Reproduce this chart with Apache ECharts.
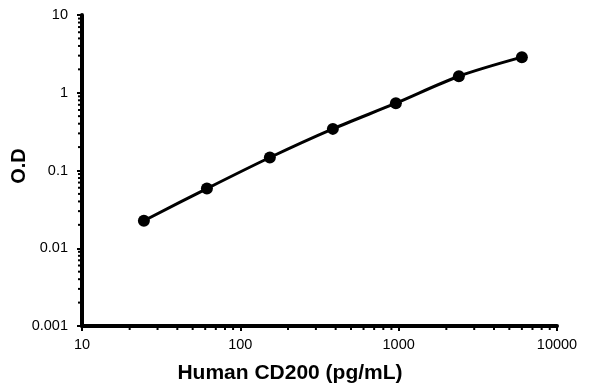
<!DOCTYPE html>
<html>
<head>
<meta charset="utf-8">
<script src="https://cdn.jsdelivr.net/npm/echarts@6/dist/echarts.min.js"></script>
<style>html,body{margin:0;padding:0;background:#fff}#c{width:600px;height:386px}</style>
</head>
<body>
<div id="c"></div>
<script>
var concentrations = [24.6, 61.5, 153.6, 384, 960, 2400, 6000];
var odValues = [0.0226, 0.0586, 0.147, 0.343, 0.733, 1.63, 2.87];
var xTickLabels = ['10', '100', '1000', '10000'];
var yTickLabels = ['0.001', '0.01', '0.1', '1', '10'];
var xMinorTicks = [20,30,40,50,60,70,80,90,200,300,400,500,600,700,800,900,2000,3000,4000,5000,6000,7000,8000,9000];
var yMinorTicks = [0.002,0.003,0.004,0.005,0.006,0.007,0.008,0.009,0.02,0.03,0.04,0.05,0.06,0.07,0.08,0.09,0.2,0.3,0.4,0.5,0.6,0.7,0.8,0.9,2,3,4,5,6,7,8,9];
var X_MIN = 10, X_MAX = 10000, Y_MIN = 0.001, Y_MAX = 10;

var font = 'Arial, "Liberation Sans", sans-serif';
var chart = echarts.init(document.getElementById('c'), null, {renderer: 'canvas'});

function minorTickSeries(isX) {
  var vals = isX ? xMinorTicks : yMinorTicks;
  return {
    type: 'custom',
    silent: true,
    clip: false,
    z: 1,
    data: vals.map(function (v) { return isX ? [v, Y_MIN] : [X_MIN, v]; }),
    renderItem: function (params, api) {
      var p = api.coord([api.value(0), api.value(1)]);
      var shape = isX ? {x1: p[0], y1: p[1], x2: p[0], y2: p[1] + 4}
                      : {x1: p[0], y1: p[1], x2: p[0] - 4, y2: p[1]};
      return {type: 'line', shape: shape, style: {stroke: '#000', lineWidth: 2}};
    }
  };
}

chart.setOption({
  animation: false,
  backgroundColor: '#fff',
  grid: {left: 82, right: 43, top: 15, bottom: 60, containLabel: false, outerBoundsMode: 'none'},
  xAxis: {
    type: 'log', logBase: 10, min: X_MIN, max: X_MAX,
    name: 'Human CD200 (pg/mL)', nameLocation: 'middle', nameGap: 37, nameMoveOverlap: false,
    nameTextStyle: {fontFamily: font, fontWeight: 'bold', fontSize: 21, color: '#000', padding: [0, 59, 0, 0]},
    axisLine: {show: true, lineStyle: {color: '#000', width: 4}},
    axisTick: {show: true, inside: false, length: 5, lineStyle: {color: '#000', width: 2}},
    axisLabel: {fontFamily: font, fontSize: 14.5, color: '#000', margin: 11,
      formatter: function (v) { return xTickLabels[Math.round(Math.log10(v)) - 1]; }},
    splitLine: {show: false}
  },
  yAxis: {
    type: 'log', logBase: 10, min: Y_MIN, max: Y_MAX,
    name: 'O.D', nameLocation: 'middle', nameGap: 53, nameMoveOverlap: false,
    nameTextStyle: {fontFamily: font, fontWeight: 'bold', fontSize: 20, color: '#000', padding: [0, 0, 0, 9]},
    axisLine: {show: true, lineStyle: {color: '#000', width: 4}},
    axisTick: {show: true, inside: false, length: 5, lineStyle: {color: '#000', width: 2}},
    axisLabel: {fontFamily: font, fontSize: 14.5, color: '#000', margin: 14,
      formatter: function (v) { return yTickLabels[Math.round(Math.log10(v)) + 3]; }},
    splitLine: {show: false}
  },
  series: [
    {
      type: 'line',
      data: concentrations.map(function (c, i) { return [c, odValues[i]]; }),
      smooth: 0.3,
      symbol: 'circle', symbolSize: 12,
      lineStyle: {color: '#000', width: 3},
      itemStyle: {color: '#000'},
      z: 3
    },
    minorTickSeries(true),
    minorTickSeries(false)
  ]
});
</script>
</body>
</html>
